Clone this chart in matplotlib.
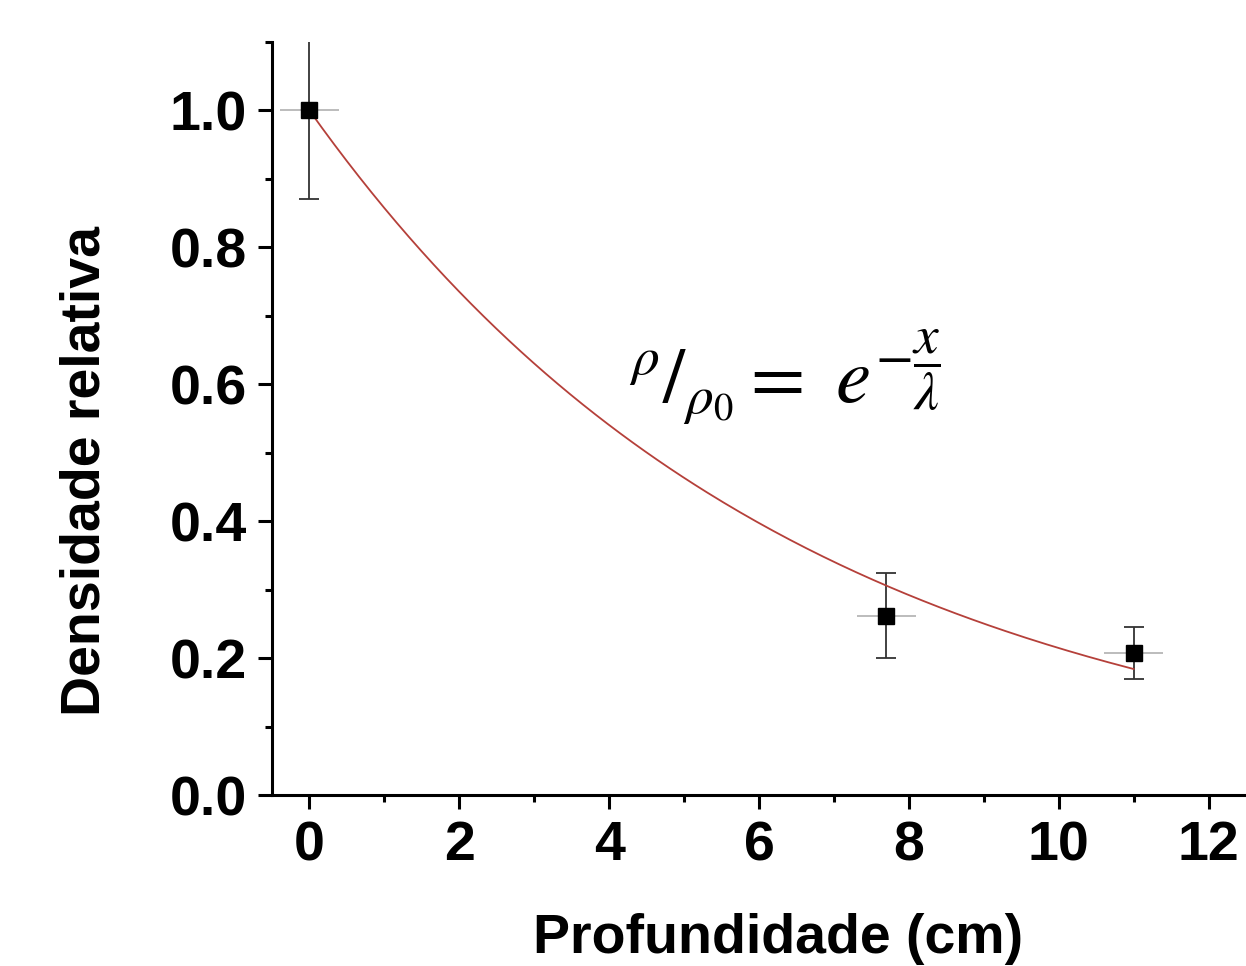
import numpy as np
import matplotlib
matplotlib.use('Agg')
import matplotlib.pyplot as plt
from matplotlib.ticker import MultipleLocator

plt.rcParams['font.family'] = ['Liberation Sans', 'DejaVu Sans']
plt.rcParams['mathtext.fontset'] = 'stix'

# dados medidos
profundidade = [0.0, 7.7, 11.0]
densidade = [1.0, 0.262, 0.208]
erro_y = [0.13, 0.062, 0.038]
erro_x = [0.39, 0.39, 0.39]

# ajuste exponencial rho/rho0 = exp(-x/lambda)
lam = 6.5
x_fit = np.linspace(0, 11, 200)
y_fit = np.exp(-x_fit / lam)

fig = plt.figure(figsize=(12.46, 9.66), dpi=100)
ax = fig.add_axes([0.2183, 0.177, 0.7817, 0.7795])

ax.plot(x_fit, y_fit, color='#b5403a', lw=1.3, zorder=2)

# barras de erro horizontais (cinza claro) e verticais (escuras)
ax.errorbar(profundidade, densidade, xerr=erro_x, fmt='none',
            ecolor='#b0b0b0', elinewidth=1.2, capsize=0, zorder=1)
ax.errorbar(profundidade, densidade, yerr=erro_y, fmt='none',
            ecolor='#333333', elinewidth=1.3, capsize=7, capthick=1.3, zorder=1)
ax.plot(profundidade, densidade, 's', color='black', ms=11, zorder=3)

ax.text(6.35, 0.61, r'$^{\rho}/_{\rho_0} = \ e^{-\dfrac{x}{\lambda}}$',
        fontsize=57, ha='center', va='center')

ax.set_xlim(-0.5, 12.5)
ax.set_ylim(0, 1.1)
ax.xaxis.set_major_locator(MultipleLocator(2))
ax.xaxis.set_minor_locator(MultipleLocator(1))
ax.yaxis.set_major_locator(MultipleLocator(0.2))
ax.yaxis.set_minor_locator(MultipleLocator(0.1))
ax.yaxis.set_major_formatter(plt.FormatStrFormatter('%.1f'))

for s in ['top', 'right']:
    ax.spines[s].set_visible(False)
for s in ['left', 'bottom']:
    ax.spines[s].set_linewidth(2.2)

ax.tick_params(which='major', direction='out', length=10, width=2.2,
               labelsize=40, pad=8)
ax.tick_params(which='minor', direction='out', length=5, width=2.2)
for lbl in ax.get_xticklabels() + ax.get_yticklabels():
    lbl.set_fontweight('bold')

ax.set_xlabel('Profundidade (cm)', fontsize=40, fontweight='bold')
ax.set_ylabel('Densidade relativa', fontsize=40, fontweight='bold')
ax.yaxis.set_label_coords(-0.165, 0.43)
ax.xaxis.set_label_coords(0.52, -0.157)
ax.xaxis.label.set_va('top')

fig.savefig('out.png', dpi=100)
